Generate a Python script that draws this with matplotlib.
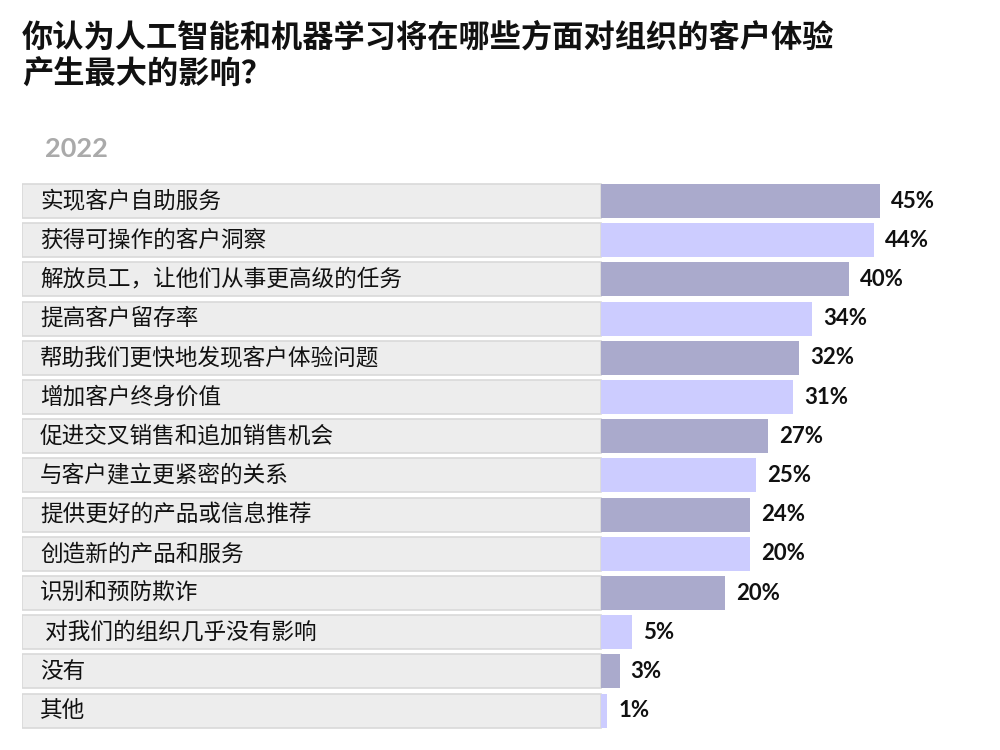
import matplotlib; matplotlib.use("Agg")
import matplotlib.pyplot as plt
from matplotlib.patches import Rectangle
import matplotlib.transforms as mtransforms

plt.rcParams['font.family'] = ['Noto Sans CJK SC', 'DejaVu Sans']

labels = ["实现客户自助服务", "获得可操作的客户洞察", "解放员工，让他们从事更高级的任务",
          "提高客户留存率", "帮助我们更快地发现客户体验问题", "增加客户终身价值",
          "促进交叉销售和追加销售机会", "与客户建立更紧密的关系", "提供更好的产品或信息推荐",
          "创造新的产品和服务", "识别和预防欺诈", " 对我们的组织几乎没有影响", "没有", "其他"]
# bar lengths as drawn in the source chart (the "创造新的..." bar is drawn at ~24 although labelled 20%)
values = [45, 44, 40, 34, 32, 31, 27, 25, 24, 24, 20, 5, 3, 1]
value_labels = ["45%", "44%", "40%", "34%", "32%", "31%", "27%", "25%", "24%", "20%",
                "20%", "5%", "3%", "1%"]
title = "你认为人工智能和机器学习将在哪些方面对组织的客户体验\n产生最大的影响？"
year = "2022"

dark, light = "#aaaacc", "#ccccff"
colors = [dark if i % 2 == 0 else light for i in range(len(values))]

fig = plt.figure(figsize=(10, 7.5), dpi=100)
ax = fig.add_axes([0.022, 1 - 730.2 / 750, 0.978, 548.8 / 750])
px = 6.2  # pixels per percent
x0 = -579 / px
ax.set_xlim(x0, (1000 - 601) / px)
ax.set_ylim(len(values) - 0.5, -0.5)
ax.axis("off")

ys = list(range(len(values)))
h = 0.87
trans = mtransforms.blended_transform_factory(ax.transAxes, ax.transData)
frac0 = (0 - x0) / (ax.get_xlim()[1] - x0)
for y, lab in zip(ys, labels):
    ax.add_patch(Rectangle((0, y - h / 2), frac0, h, transform=trans,
                           facecolor="#ededed", edgecolor="#d9d9d9", lw=1.2, zorder=1))
    ax.text(18 / 978, y, lab, transform=trans, ha="left", va="center",
            fontsize=16.3, color="#111111", zorder=3)

ax.barh(ys, values, height=h, color=colors, edgecolor="none", zorder=2)
for y, v, t in zip(ys, values, value_labels):
    ax.annotate(t, (v, y), textcoords="offset points", xytext=(8, 0),
                ha="left", va="center", fontsize=16, fontweight="bold",
                family=["Lato", "DejaVu Sans"], color="#111111")

fig.text(0.022, 1 - 22 / 750, title, ha="left", va="top", fontsize=22.5,
         fontweight="bold", color="#111111", linespacing=1.2)
fig.text(0.045, 1 - 149 / 750, year, ha="left", va="center", fontsize=19.5,
         fontweight="bold", color="#aaaaaa", family=["Lato", "DejaVu Sans"])

fig.savefig("out.png", dpi=100)
